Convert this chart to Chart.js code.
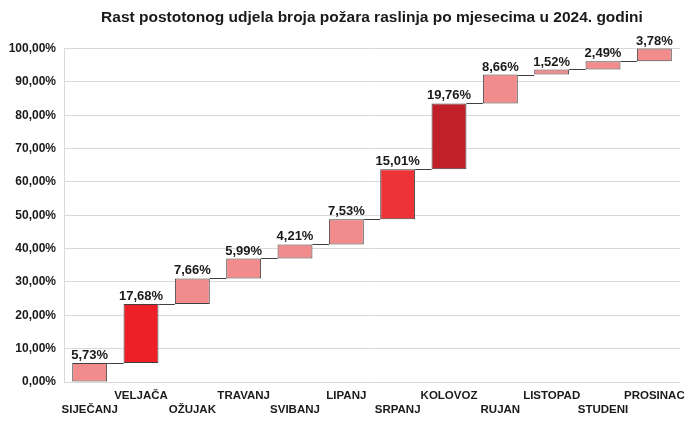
<!DOCTYPE html>
<html>
<head>
<meta charset="utf-8">
<script src="https://cdn.jsdelivr.net/npm/chart.js@4.4.1/dist/chart.umd.min.js"></script>
<style>
  html, body { margin: 0; padding: 0; background: #fff; }
  #wrap { width: 686px; height: 422px; }
</style>
</head>
<body>
<div id="wrap"><canvas id="chart" width="686" height="422"></canvas></div>
<script>
const TITLE = 'Rast postotonog udjela broja požara raslinja po mjesecima u 2024. godini';
const months = ['SIJEČANJ', 'VELJAČA', 'OŽUJAK', 'TRAVANJ', 'SVIBANJ', 'LIPANJ',
                'SRPANJ', 'KOLOVOZ', 'RUJAN', 'LISTOPAD', 'STUDENI', 'PROSINAC'];
const shares = [5.73, 17.68, 7.66, 5.99, 4.21, 7.53, 15.01, 19.76, 8.66, 1.52, 2.49, 3.78];
const yTicks = [0, 10, 20, 30, 40, 50, 60, 70, 80, 90, 100];

const FONT = "'Liberation Sans', Arial, sans-serif";

// floating bars: each one starts where the previous ended
let run = 0;
const floating = shares.map(v => { const s = run; run += v; return [s, run]; });

function barColor(v) {
    if (v >= 19) return '#c0202a';
    if (v >= 17) return '#ee1f26';
    if (v >= 12) return '#ee3338';
    return '#f28b8c';
}

const fmt = v => v.toFixed(2).replace('.', ',') + '%';

// staggered category labels: even ones on the lower row
const xLabels = months.map((m, i) => i % 2 === 0 ? ['', m] : [m, '']);

const waterfallExtras = {
    id: 'waterfallExtras',
    afterDatasetsDraw(chart) {
        const ctx = chart.ctx;
        const meta = chart.getDatasetMeta(0);
        const y = chart.scales.y;
        ctx.save();
        // connectors
        ctx.strokeStyle = '#404040';
        ctx.lineWidth = 1;
        for (let i = 0; i < meta.data.length - 1; i++) {
            const a = meta.data[i], b = meta.data[i + 1];
            const yy = Math.round(y.getPixelForValue(floating[i][1])) + 0.5;
            ctx.beginPath();
            ctx.moveTo(a.x + a.width / 2, yy);
            ctx.lineTo(b.x - b.width / 2, yy);
            ctx.stroke();
        }
        // value labels
        ctx.fillStyle = '#1a1a1a';
        ctx.font = 'bold 13px ' + FONT;
        ctx.textAlign = 'center';
        ctx.textBaseline = 'bottom';
        meta.data.forEach((bar, i) => {
            const top = y.getPixelForValue(floating[i][1]);
            ctx.fillText(fmt(shares[i]), bar.x, top - 1);
        });
        ctx.restore();
    }
};

new Chart(document.getElementById('chart'), {
    type: 'bar',
    data: {
        labels: xLabels,
        datasets: [{
            data: floating,
            backgroundColor: shares.map(barColor),
            borderColor: '#404040',
            borderWidth: 1,
            borderSkipped: false,
            categoryPercentage: 1,
            barPercentage: 0.68,
            clip: false
        }]
    },
    options: {
        responsive: false,
        animation: false,
        layout: { padding: { top: 0, right: 6, left: 0, bottom: 0 } },
        plugins: {
            legend: { display: false },
            tooltip: { enabled: false },
            title: {
                display: true,
                text: TITLE,
                fullSize: false,
                color: '#1a1a1a',
                font: { family: FONT, size: 15.5, weight: 'bold' },
                padding: { top: 8, bottom: 22 }
            }
        },
        scales: {
            x: {
                afterFit(s) { s.height = 40; s.paddingLeft = 0; s.paddingRight = 0; },
                grid: { display: false, drawTicks: false },
                border: { display: false },
                ticks: {
                    color: '#1a1a1a',
                    font: { family: FONT, size: 11.5, weight: 'bold' },
                    maxRotation: 0,
                    autoSkip: false,
                    padding: 7
                }
            },
            y: {
                min: 0,
                max: 100,
                afterFit(s) { s.width = 64; },
                afterBuildTicks(s) { s.ticks = yTicks.map(v => ({ value: v })); },
                grid: { color: '#d9d9d9', drawTicks: false },
                border: { display: true, color: '#d9d9d9' },
                ticks: {
                    color: '#1a1a1a',
                    font: { family: FONT, size: 12, weight: 'bold' },
                    padding: 8,
                    callback: v => fmt(v)
                }
            }
        }
    },
    plugins: [waterfallExtras]
});
</script>
</body>
</html>
